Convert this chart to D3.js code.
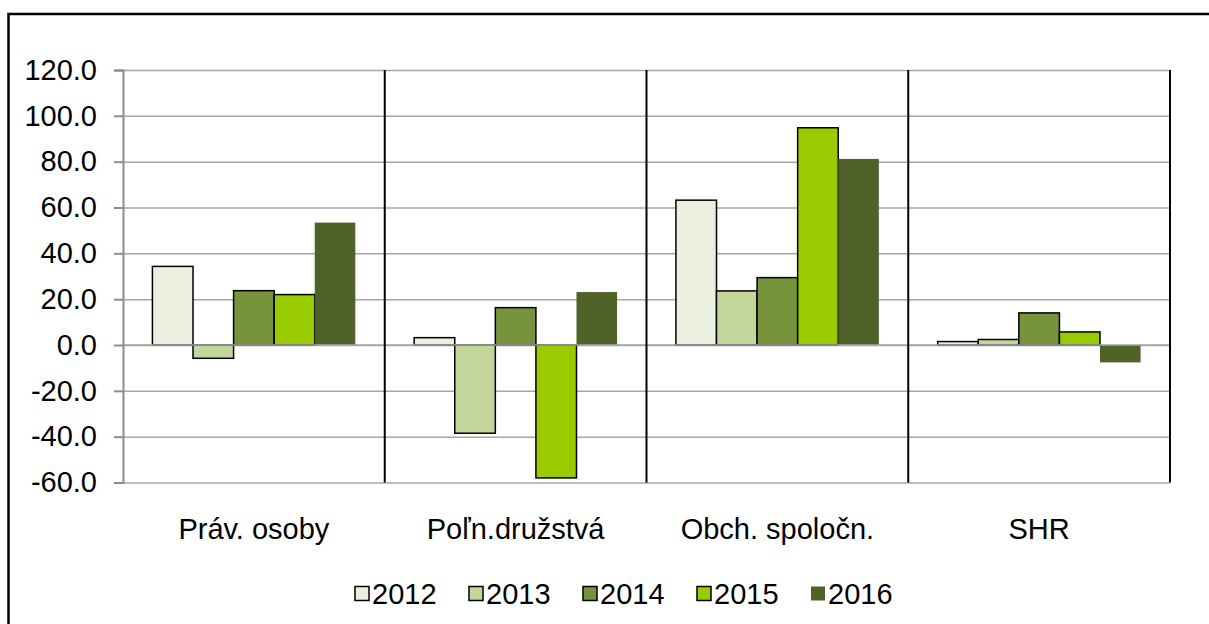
<!DOCTYPE html>
<html lang="en">
<head>
<meta charset="UTF-8" />
<title>Chart</title>
<script src="https://cdn.jsdelivr.net/npm/d3@7"></script>
<style>
  body { margin: 0; background: #fff; }
  text { font-family: "Liberation Sans", Arial, sans-serif; fill: #000; }
</style>
</head>
<body>
<div id="chart"></div>
<script>
// data
var categories = ["Práv. osoby", "Poľn.družstvá", "Obch. spoločn.", "SHR"];
var years = ["2012", "2013", "2014", "2015", "2016"];
var v2012 = [34.3, 3.2, 63.2, 1.5];
var v2013 = [-5.8, -38.5, 23.6, 2.4];
var v2014 = [23.7, 16.3, 29.4, 14.0];
var v2015 = [22.0, -58.0, 94.8, 5.7];
var v2016 = [53.4, 23.1, 81.2, -7.6];
var yTicks = [-60, -40, -20, 0, 20, 40, 60, 80, 100, 120];

var series = [v2012, v2013, v2014, v2015, v2016];
var colors = ["#ebefdf", "#c4d79b", "#77933c", "#99cc00", "#4f6228"];
var strokes = ["#000", "#000", "#000", "#000", "none"];

var width = 1209, height = 624;
var pLeft = 123, pRight = 1170, pTop = 70, pBottom = 482.5;
var fontSize = 29;

var svg = d3.select("#chart").append("svg")
  .attr("width", width)
  .attr("height", height);

// outer frame
svg.append("rect")
  .attr("x", 8.5).attr("y", 14)
  .attr("width", 1230).attr("height", 700)
  .attr("fill", "none")
  .attr("stroke", "#000")
  .attr("stroke-width", 2.5);

var y = d3.scaleLinear().domain([-60, 120]).range([pBottom, pTop]);
var x0 = d3.scaleBand().domain(categories).range([pLeft, pRight]);
var x1 = d3.scaleBand().domain(years).range([0, x0.bandwidth()]).paddingInner(0).paddingOuter(0.725);

// gridlines
svg.append("g")
  .attr("transform", "translate(" + pLeft + ",0)")
  .call(d3.axisLeft(y).tickValues(yTicks).tickSize(-(pRight - pLeft)).tickFormat(""))
  .call(function(g) {
    g.select(".domain").remove();
    g.selectAll("line").attr("stroke", "#a6a6a6").attr("stroke-width", 1.5);
  });

// bars
var rows = [];
categories.forEach(function(c, i) {
  years.forEach(function(yr, j) {
    rows.push({ cat: c, year: yr, idx: j, value: series[j][i] });
  });
});

svg.append("g").selectAll("rect")
  .data(rows)
  .enter().append("rect")
  .attr("x", function(d) { return x0(d.cat) + x1(d.year); })
  .attr("y", function(d) { return y(Math.max(0, d.value)); })
  .attr("width", x1.bandwidth())
  .attr("height", function(d) { return Math.abs(y(d.value) - y(0)); })
  .attr("fill", function(d) { return colors[d.idx]; })
  .attr("stroke", function(d) { return strokes[d.idx]; })
  .attr("stroke-width", 1.5);

// zero line
svg.append("line")
  .attr("x1", pLeft).attr("x2", pRight)
  .attr("y1", y(0)).attr("y2", y(0))
  .attr("stroke", "#a6a6a6")
  .attr("stroke-width", 1.5);

// category separators
var seps = categories.slice(1).map(function(c) { return x0(c); }).concat([pRight]);
svg.append("g").selectAll("line")
  .data(seps)
  .enter().append("line")
  .attr("x1", function(d) { return d; }).attr("x2", function(d) { return d; })
  .attr("y1", pTop).attr("y2", pBottom)
  .attr("stroke", "#000")
  .attr("stroke-width", 2);

// y axis (plain hyphen for negatives, like the original)
svg.append("g")
  .attr("transform", "translate(" + pLeft + ",0)")
  .call(d3.axisLeft(y).tickValues(yTicks).tickSize(9).tickPadding(17)
    .tickFormat(function(d) { return d.toFixed(1); }))
  .call(function(g) {
    g.select(".domain").attr("stroke", "#8c8c8c").attr("stroke-width", 2);
    g.selectAll("line").attr("stroke", "#8c8c8c").attr("stroke-width", 2);
    g.selectAll("text").attr("font-size", fontSize).attr("font-family", "Liberation Sans, Arial, sans-serif").attr("fill", "#000");
  });

// category labels
svg.append("g").selectAll("text")
  .data(categories)
  .enter().append("text")
  .attr("x", function(d) { return x0(d) + x0.bandwidth() / 2; })
  .attr("y", 539)
  .attr("text-anchor", "middle")
  .attr("font-size", fontSize)
  .text(function(d) { return d; });

// legend
var legend = svg.append("g").attr("transform", "translate(355,594)");
var item = legend.selectAll("g")
  .data(years)
  .enter().append("g")
  .attr("transform", function(d, i) { return "translate(" + (i * 114) + ",0)"; });
item.append("rect")
  .attr("x", 0).attr("y", -7.5)
  .attr("width", 14).attr("height", 14)
  .attr("fill", function(d, i) { return colors[i]; })
  .attr("stroke", function(d, i) { return strokes[i] === "none" ? "none" : "#000"; })
  .attr("stroke-width", 1.5);
item.append("text")
  .attr("x", 17).attr("y", 10)
  .attr("font-size", fontSize)
  .text(function(d) { return d; });
</script>
</body>
</html>
